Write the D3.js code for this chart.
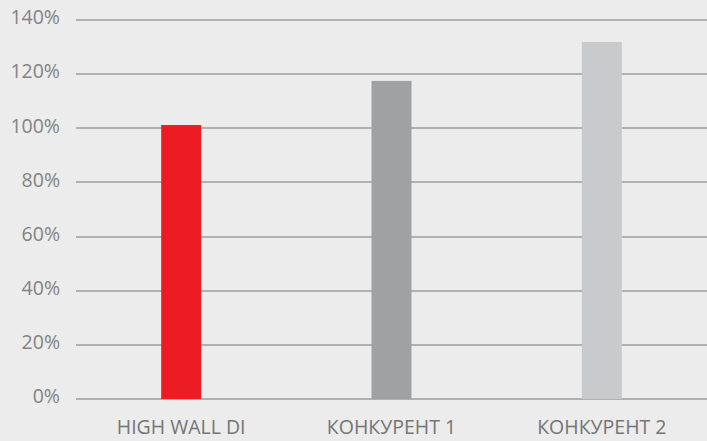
<!DOCTYPE html>
<html>
<head>
<meta charset="utf-8">
<script src="https://cdn.jsdelivr.net/npm/d3@7"></script>
<style>
  html, body { margin: 0; padding: 0; background: #ebeceb; }
  svg { display: block; }
  text { font-family: "Open Sans", "DejaVu Sans", sans-serif; font-weight: 400; }
</style>
</head>
<body>
<svg id="chart" width="707" height="441"></svg>
<script>
// Relative performance, percent
const categories = ["HIGH WALL DI", "КОНКУРЕНТ 1", "КОНКУРЕНТ 2"];
const values = [101.2, 117.5, 131.9];
const barColors = ["#ed1c24", "#a0a1a2", "#c8cacc"];
const yTicks = [0, 20, 40, 60, 80, 100, 120, 140];

const width = 707, height = 441;
const margin = { top: 20, right: 0, bottom: 42, left: 76 };

const svg = d3.select("#chart");

const x = d3.scaleBand()
  .domain(categories)
  .range([margin.left, width - margin.right])
  .paddingInner(0.81)
  .paddingOuter(0.405);

const y = d3.scaleLinear()
  .domain([0, 140])
  .range([height - margin.bottom, margin.top]);

// Horizontal gridlines
svg.append("g")
  .selectAll("line")
  .data(yTicks)
  .join("line")
  .attr("x1", margin.left)
  .attr("x2", width - margin.right)
  .attr("y1", d => Math.round(y(d)))
  .attr("y2", d => Math.round(y(d)))
  .attr("stroke", "#9b9c9c")
  .attr("stroke-width", 1.4);

// Y axis labels
svg.append("g")
  .selectAll("text")
  .data(yTicks)
  .join("text")
  .attr("x", 60)
  .attr("y", d => y(d) - 2.5)
  .attr("dy", "0.35em")
  .attr("text-anchor", "end")
  .attr("fill", "#838383")
  .attr("font-size", 19.5)
  .text(d => d + "%");

// Bars
svg.append("g")
  .selectAll("rect")
  .data(values)
  .join("rect")
  .attr("x", (d, i) => x(categories[i]))
  .attr("width", x.bandwidth())
  .attr("y", d => y(d))
  .attr("height", d => y(0) - y(d))
  .attr("fill", (d, i) => barColors[i]);

// Category labels
svg.append("g")
  .selectAll("text")
  .data(categories)
  .join("text")
  .attr("x", d => x(d) + x.bandwidth() / 2)
  .attr("y", 434)
  .attr("text-anchor", "middle")
  .attr("fill", "#757575")
  .attr("font-size", 19.5)
  .text(d => d);
</script>
</body>
</html>
